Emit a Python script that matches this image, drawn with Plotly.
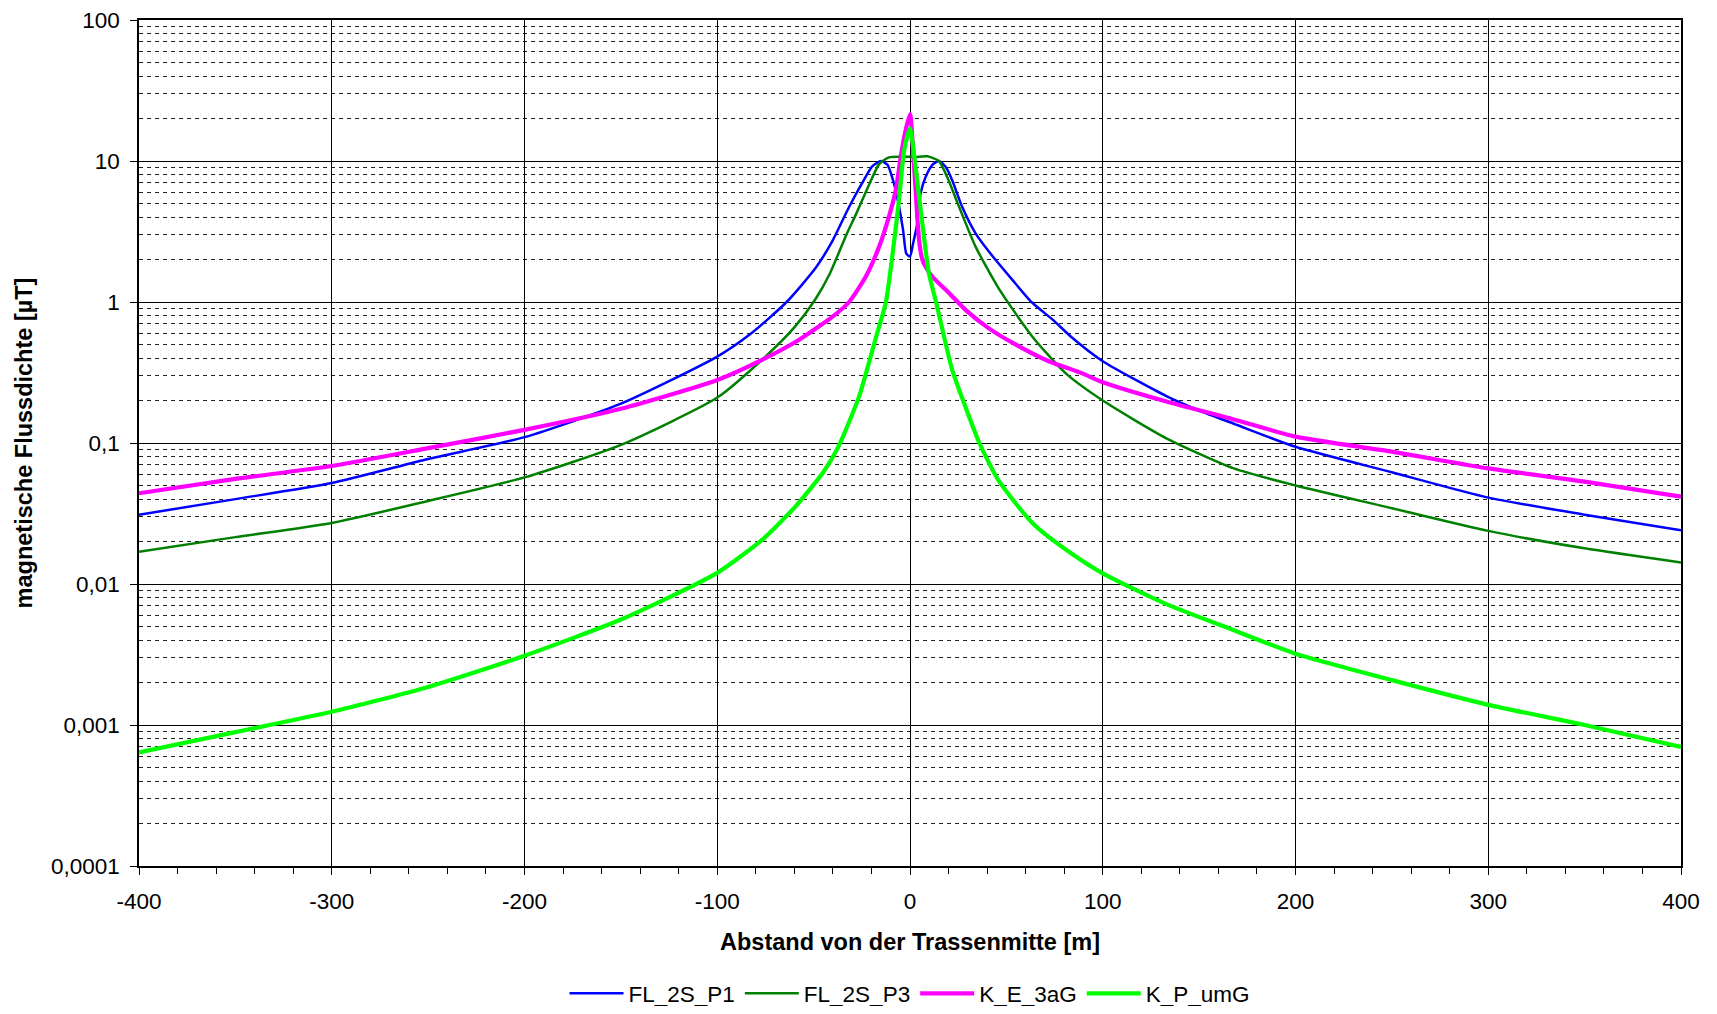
import plotly.graph_objects as go

# ---- data ----
x_p1 = [-400, -350, -300, -250, -200, -150, -100, -83, -64, -49, -40, -32, -25, -19.5, -15, -11.7,
        -8.3, -5.7, -3.6, -1.9, 0, 1.6, 3.8, 5.5, 8.1, 11.6, 15, 18.5, 21.9, 27, 34, 43, 53, 63,
        74, 84, 100, 133, 150, 168, 200, 250, 300, 350, 400]
y_p1 = [0.031, 0.040, 0.052, 0.077, 0.11, 0.19, 0.41, 0.59, 1.0, 1.74, 2.75, 4.6, 6.9, 9.2, 10.0, 9.4,
        6.9, 4.75, 3.25, 2.2, 2.1, 2.6, 3.6, 5.9, 7.7, 9.4, 10.0, 9.1, 7.3, 4.75, 3.07, 2.1, 1.44, 1.0,
        0.75, 0.56, 0.38, 0.215, 0.17, 0.137, 0.094, 0.062, 0.041, 0.031, 0.024]

x_p3 = [-400, -350, -300, -250, -200, -150, -100, -75, -60, -49, -41.5, -33, -28, -21, -16, -11,
        -5, 0, 4.7, 9, 15, 20, 25.4, 34, 46, 63.4, 80.7, 100, 133, 168, 200, 250, 300, 350, 400]
y_p3 = [0.0169, 0.0215, 0.0271, 0.0388, 0.057, 0.097, 0.21, 0.41, 0.66, 1.05, 1.6, 3.0, 4.2, 6.9, 9.5, 10.6,
        10.7, 10.7, 10.7, 10.8, 10.0, 7.3, 4.75, 2.47, 1.25, 0.57, 0.313, 0.2, 0.108, 0.066, 0.05,
        0.0345, 0.0238, 0.0179, 0.0142]

x_e3 = [-400, -350, -300, -250, -200, -150, -100, -75, -57.5, -40, -31.6, -23, -16, -11, -7.4, -4.8,
        -2.5, 0, 2, 4.7, 6.4, 8.1, 11.6, 20.2, 28.8, 40.9, 54.7, 72, 89, 100, 133, 168, 200, 250,
        300, 350, 400]
y_e3 = [0.044, 0.0556, 0.0687, 0.092, 0.124, 0.175, 0.28, 0.40, 0.54, 0.79, 1.0, 1.51, 2.47, 4.0, 6.2, 10.7,
        16, 21.5, 9.7, 2.75, 2.0, 1.78, 1.51, 1.16, 0.88, 0.65, 0.50, 0.38, 0.313, 0.27, 0.197, 0.147,
        0.111, 0.0868, 0.066, 0.0532, 0.0416]

x_pu = [-400, -350, -300, -250, -200, -150, -100, -76, -59, -45, -37, -26.4, -18, -12.5, -9.2, -5.7,
        -3, 0, 2.9, 6.4, 9.8, 13.5, 21.9, 28.8, 36, 46, 63.6, 81, 100, 133, 168, 200, 250, 300, 350, 400]
y_pu = [0.00064, 0.00089, 0.00124, 0.00186, 0.0031, 0.0056, 0.012, 0.021, 0.036, 0.062, 0.095, 0.214, 0.54,
        1.0, 2.1, 5.3, 12, 17, 9, 3.6, 1.6, 1.0, 0.33, 0.18, 0.1, 0.054, 0.027, 0.0175, 0.0119, 0.0072,
        0.0047, 0.0032, 0.00208, 0.00139, 0.001, 0.0007]

series_names = ["FL_2S_P1", "FL_2S_P3", "K_E_3aG", "K_P_umG"]
y_tickvals = [1e-4, 1e-3, 1e-2, 1e-1, 1, 10, 100]
y_ticktext = ["0,0001", "0,001", "0,01", "0,1", "1", "10", "100"]
x_tickvals = [-400, -300, -200, -100, 0, 100, 200, 300, 400]

FONT = "Liberation Sans, Arial, sans-serif"

styles = [("#0000FF", 2.5), ("#008000", 2.5), ("#FF00FF", 4.2), ("#00FF00", 4.2)]
data = [(x_p1, y_p1), (x_p3, y_p3), (x_e3, y_e3), (x_pu, y_pu)]

fig = go.Figure()
for (xs, ys), name, (col, w) in zip(data, series_names, styles):
    fig.add_trace(go.Scatter(x=xs, y=ys, name=name, mode="lines",
                             line=dict(color=col, width=w, shape="spline", smoothing=0.6)))

# page body has an 8px margin, so the figure is sized/offset to land where the reference is
fig.update_layout(
    width=1701, height=998,
    margin=dict(l=131, r=28, t=12, b=140, autoexpand=False),
    paper_bgcolor="white", plot_bgcolor="white",
    font=dict(family=FONT, size=22, color="black"),
    showlegend=True,
    legend=dict(orientation="h", x=0.5, xanchor="center", y=-0.151, yanchor="middle",
                font=dict(size=22.5), itemwidth=54, tracegroupgap=0),
)

fig.update_xaxes(
    range=[-400, 400], tickvals=x_tickvals, ticktext=[str(v) for v in x_tickvals],
    showgrid=True, gridcolor="black", gridwidth=1, automargin=False,
    zeroline=False, showline=True, linecolor="black", linewidth=1.5, mirror=True,
    ticks="outside", ticklen=7, tickcolor="black", ticklabelstandoff=7,
    ticklabeloverflow="allow",
    minor=dict(dtick=20, tick0=0, ticks="outside", ticklen=6, tickcolor="black", showgrid=False),
    title=dict(text="<b>Abstand von der Trassenmitte [m]</b>", font=dict(size=23.5), standoff=21),
    tickfont=dict(size=22.5),
)

fig.update_yaxes(
    type="log", range=[-4, 2], tickvals=y_tickvals, ticktext=y_ticktext,
    showgrid=True, gridcolor="black", gridwidth=1, automargin=False,
    zeroline=False, showline=True, linecolor="black", linewidth=1.5, mirror=True,
    ticks="outside", ticklen=7, tickcolor="black", ticklabelstandoff=6,
    ticklabeloverflow="allow",
    minor=dict(dtick="D1", showgrid=True, gridcolor="#222222", gridwidth=1, griddash="4px,4px", ticks=""),
    title=dict(text="<b>magnetische Flussdichte [µT]</b>", font=dict(size=23.5), standoff=12),
    tickfont=dict(size=22.5),
)

fig.write_html("out.html")
